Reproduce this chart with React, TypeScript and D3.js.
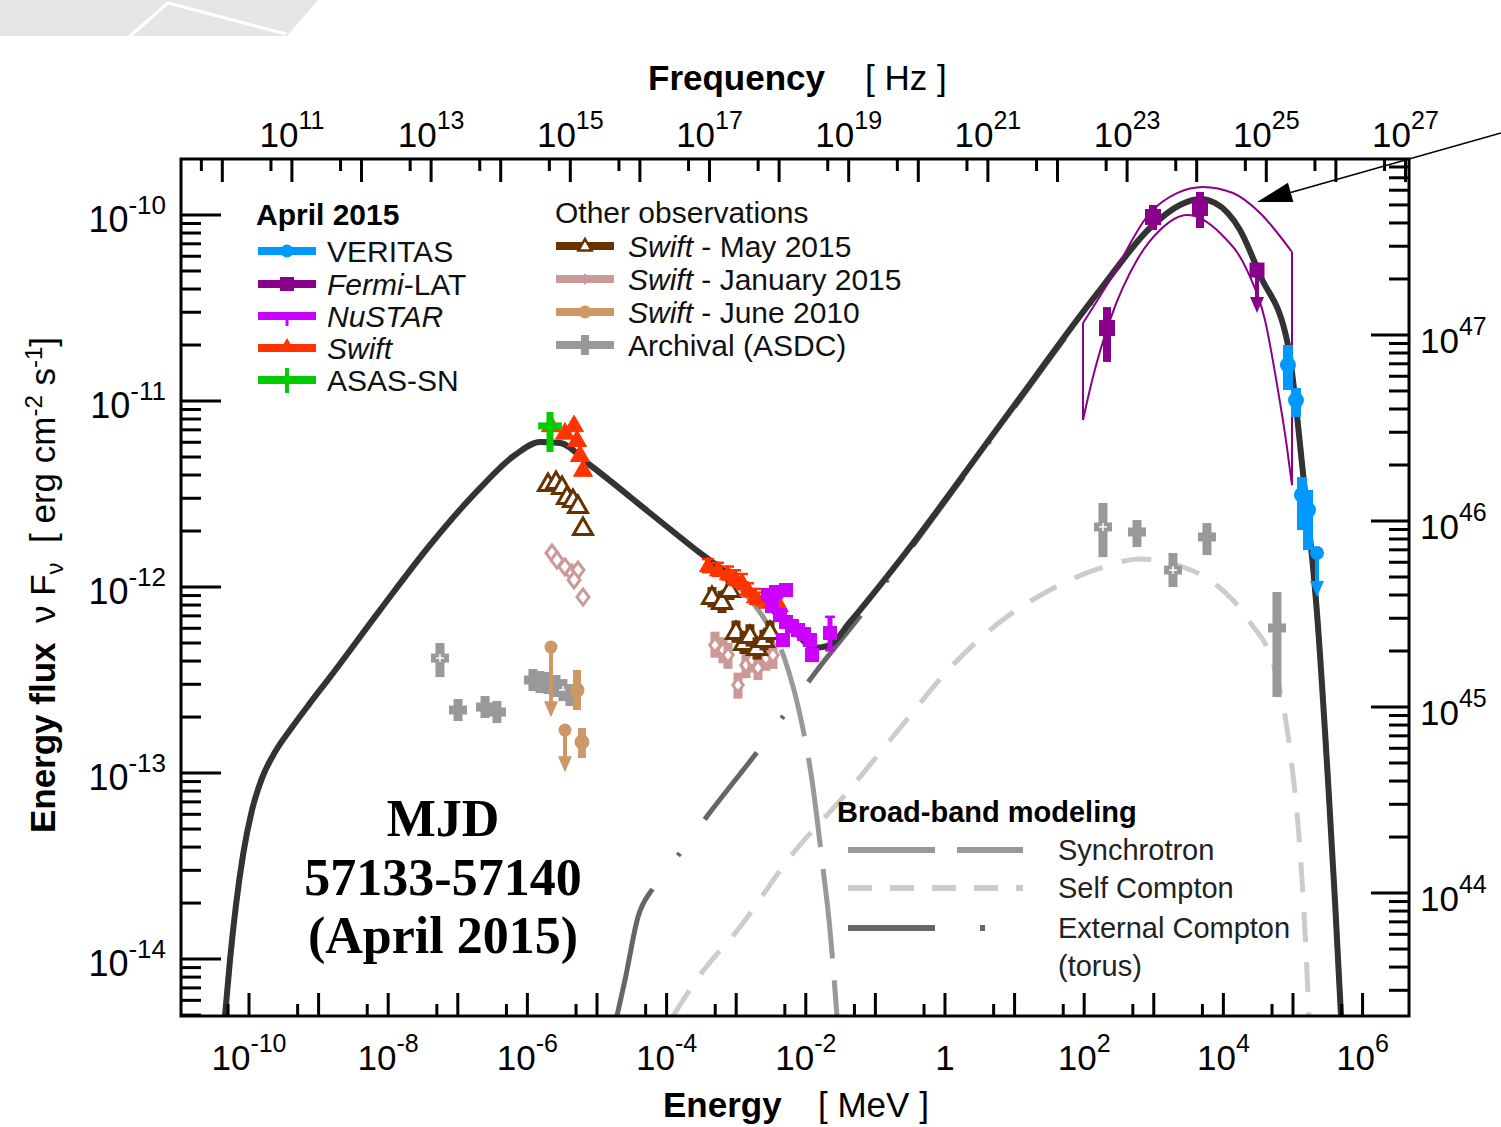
import React from "react";
import * as d3 from "d3";

const W = 1501;
const H = 1127;
const M = { left: 181, right: 1409, top: 159, bottom: 1016 };

const LOG_E_RANGE = [-10.977, 6.667]; // log10 Energy [MeV]
const LOG_F_RANGE = [-14.306, -9.699]; // log10 nuFnu [erg cm^-2 s^-1]
const PLANCK_MEV_S = 4.1357e-21;
const LOG_LUM_OVER_FLUX = 57.645;

const SANS = '"Liberation Sans", Arial, Helvetica, sans-serif';
const SERIF = '"Liberation Serif", "Times New Roman", Times, serif';

// ---------- model curves: [log10 E (MeV), log10 nuFnu] ----------
const totalModel = [
  [-10.345, -14.306], [-10.273, -14.005], [-10.187, -13.71], [-10.086, -13.441], [-9.957, -13.199],
  [-9.813, -13.027], [-9.626, -12.887], [-9.411, -12.769], [-9.124, -12.624], [-8.836, -12.484],
  [-8.118, -12.124], [-7.399, -11.774],
  [-6.681, -11.468], [-6.178, -11.29], [-5.819, -11.22], [-5.532, -11.226], [-5.101, -11.344],
  [-4.239, -11.602], [-3.52, -11.817], [-2.802, -12.016], [-2.227, -12.21], [-1.868, -12.328],
  [-1.652, -12.312], [-1.365, -12.188], [-0.647, -11.855], [0.79, -11.129], [2.227, -10.403],
  [2.945, -10.07], [3.376, -9.946], [3.664, -9.914], [3.879, -9.935], [4.239, -10.081],
  [4.526, -10.323], [4.928, -10.699], [5.144, -11.387], [5.345, -12.14], [5.503, -13.038],
  [5.603, -13.683], [5.69, -14.306],
];
const synchrotron = [
  [-10.345, -14.306], [-10.273, -14.005], [-10.187, -13.71], [-10.086, -13.441], [-9.957, -13.199],
  [-9.813, -13.027], [-9.626, -12.887], [-9.411, -12.769], [-9.124, -12.624], [-8.836, -12.484],
  [-8.118, -12.124], [-7.399, -11.774],
  [-6.681, -11.468], [-6.178, -11.29], [-5.819, -11.22], [-5.532, -11.226], [-5.101, -11.344],
  [-4.239, -11.602], [-3.52, -11.817], [-2.945, -12.005], [-2.586, -12.177], [-2.299, -12.392],
  [-2.083, -12.688], [-1.911, -13.038], [-1.767, -13.468], [-1.652, -13.844], [-1.552, -14.306],
];
const externalCompton = [
  [-4.713, -14.306], [-4.598, -14.113], [-4.411, -13.774], [-4.195, -13.618], [-3.807, -13.43],
  [-3.405, -13.226], [-2.658, -12.866], [-2.27, -12.667], [-1.868, -12.462], [-1.121, -12.108],
  [-0.647, -11.871], [0.79, -11.14], [2.227, -10.41], [2.945, -10.07], [3.376, -9.946],
  [3.664, -9.914], [3.879, -9.935], [4.239, -10.081], [4.526, -10.323], [4.928, -10.699],
  [5.144, -11.387], [5.345, -12.14], [5.503, -13.038], [5.603, -13.683], [5.69, -14.306],
];
const selfCompton = [
  [-3.908, -14.306], [-3.52, -14.086], [-2.945, -13.828], [-2.227, -13.452], [-1.437, -13.118],
  [-0.647, -12.758], [0.072, -12.435], [0.79, -12.188], [1.509, -12.016], [2.227, -11.898],
  [2.802, -11.849], [3.376, -11.887], [3.951, -12.005], [4.382, -12.188], [4.741, -12.446],
  [4.957, -12.876], [5.101, -13.414], [5.172, -13.844], [5.23, -14.306],
];

// Fermi-LAT butterfly
const bowtieUpper = [
  [1.983, -10.581], [2.371, -10.349], [2.945, -9.989], [3.333, -9.882], [3.707, -9.849],
  [4.138, -9.882], [4.526, -9.989], [4.986, -10.199],
];
const bowtieLower = [
  [1.983, -11.102], [2.126, -10.871], [2.371, -10.565], [2.759, -10.242], [3.089, -10.081],
  [3.477, -10.0], [3.951, -10.097], [4.339, -10.296], [4.598, -10.565], [4.784, -10.941],
  [4.899, -11.21], [4.986, -11.452],
];

// ---------- observations: [logE, logF, logFlow, logFhigh] ----------
const veritas = [
  [4.928, -10.806, -10.941, -10.699],
  [5.043, -10.995, -11.086, -10.93],
  [5.129, -11.505, -11.694, -11.409],
  [5.216, -11.586, -11.801, -11.478],
];
const veritasUL = [[5.345, -11.817, -12.054]];
const fermi = [
  [2.328, -10.608, -10.79, -10.495],
  [2.989, -10.011, -10.081, -9.946],
  [3.664, -9.962, -10.07, -9.876],
];
const fermiUL = [[4.483, -10.296, -10.527]];
const nustar = [
  [-2.543, -12.043, -12.073, -12.013], [-2.428, -12.027, -12.057, -11.997], [-2.284, -12.016, -12.046, -11.986],
  [-2.486, -12.102, -12.132, -12.072], [-2.371, -12.151, -12.181, -12.121], [-2.284, -12.188, -12.218, -12.158],
  [-2.198, -12.21, -12.24, -12.18], [-2.112, -12.231, -12.261, -12.201], [-2.026, -12.253, -12.283, -12.223],
  [-1.94, -12.285, -12.315, -12.255], [-2.328, -12.285, -12.315, -12.255], [-1.911, -12.366, -12.396, -12.336],
  [-1.652, -12.247, -12.34, -12.16],
];
const swiftUV = [
  [-5.66, -11.13, -11.16, -11.1], [-5.46, -11.17, -11.2, -11.14], [-5.33, -11.13, -11.16, -11.1],
  [-5.287, -11.21, -11.24, -11.18], [-5.244, -11.29, -11.32, -11.26], [-5.201, -11.37, -11.4, -11.34],
];
const swiftXray = [
  [-3.405, -11.887, -11.92, -11.85], [-3.261, -11.909, -11.94, -11.87], [-3.118, -11.93, -11.96, -11.89],
  [-3.017, -11.952, -11.99, -11.91], [-2.917, -11.973, -12.01, -11.93], [-2.83, -12.016, -12.05, -11.98],
  [-2.73, -12.054, -12.09, -12.01], [-2.601, -12.07, -12.11, -12.03], [-2.371, -12.102, -12.14, -12.04],
];
const asassn = [[-5.675, -11.134, -11.274, -11.059]];
const asassnXErr = [[-5.675, -5.845, -5.505]];
const swiftMayUV = [
  [-5.704, -11.446], [-5.589, -11.435], [-5.503, -11.462], [-5.431, -11.516],
  [-5.345, -11.532], [-5.273, -11.565], [-5.201, -11.683],
];
const swiftMayXray = [
  [-3.348, -12.054, -12.11, -12.0], [-3.204, -12.081, -12.14, -12.02], [-3.089, -12.016, -12.07, -11.96],
  [-3.003, -12.242, -12.3, -12.18], [-2.888, -12.301, -12.36, -12.24], [-2.802, -12.263, -12.32, -12.2],
  [-2.701, -12.328, -12.39, -12.27], [-2.601, -12.285, -12.34, -12.23], [-2.514, -12.242, -12.3, -12.18],
];
const swiftJanUV = [
  [-5.647, -11.817], [-5.575, -11.855], [-5.46, -11.892], [-5.359, -11.925],
  [-5.273, -11.909], [-5.33, -11.962], [-5.201, -12.054],
];
const swiftJanXray = [
  [-3.305, -12.312, -12.38, -12.24], [-3.19, -12.339, -12.41, -12.27], [-3.118, -12.366, -12.44, -12.3],
  [-2.974, -12.527, -12.6, -12.46], [-2.859, -12.419, -12.49, -12.35], [-2.773, -12.392, -12.46, -12.32],
  [-2.687, -12.435, -12.5, -12.37], [-2.572, -12.382, -12.45, -12.31], [-2.471, -12.366, -12.44, -12.3],
];
const swiftJune2010 = [
  [-5.287, -12.554, -12.661, -12.446],
  [-5.216, -12.833, -12.919, -12.758],
];
const swiftJune2010UL = [
  [-5.661, -12.323, -12.7],
  [-5.46, -12.769, -12.995],
];
// archival: [logE, logF, lo, hi, open(1)/filled(0)]
const archival = [
  [-7.256, -12.382, -12.484, -12.301, 1], [-6.997, -12.661, -12.69, -12.63, 0], [-6.609, -12.645, -12.675, -12.615, 0],
  [-6.437, -12.672, -12.7, -12.64, 0], [-5.92, -12.5, -12.53, -12.47, 0], [-5.819, -12.511, -12.54, -12.48, 0],
  [-5.704, -12.516, -12.55, -12.49, 0], [-5.589, -12.532, -12.56, -12.5, 0], [-5.489, -12.554, -12.58, -12.52, 1],
  [-5.388, -12.581, -12.61, -12.55, 0],
  [2.27, -11.677, -11.839, -11.548, 1], [2.759, -11.704, -11.785, -11.64, 0], [3.276, -11.909, -12.0, -11.817, 1],
  [3.764, -11.731, -11.828, -11.656, 0], [4.77, -12.22, -12.591, -12.027, 0],
];

// annotation arrow (data coords): tip, tail
const arrowTip = [4.483, -9.93];
const arrowTail = [7.989, -9.559];

const COLORS = {
  veritas: "#0099ff",
  fermi: "#8b008b",
  nustar: "#cc00ff",
  swift: "#ff3300",
  asassn: "#00cc00",
  may: "#663300",
  jan: "#cc9999",
  june: "#cc9966",
  archival: "#999999",
};

// External-Compton dash-dot style: first dash longer (curve enters from below the axis)
const EC_DASH = ["133,42,3,42"].concat(Array(14).fill("85,42,3,42")).join(",");

const xs = d3.scaleLog().domain([10 ** LOG_E_RANGE[0], 10 ** LOG_E_RANGE[1]]).range([M.left, M.right]);
const ys = d3.scaleLog().domain([10 ** LOG_F_RANGE[0], 10 ** LOG_F_RANGE[1]]).range([M.bottom, M.top]);
const nuScale = d3.scaleLog().domain(xs.domain().map((e) => e / PLANCK_MEV_S)).range(xs.range());
const lumScale = d3.scaleLog().domain(ys.domain().map((f) => f * 10 ** LOG_LUM_OVER_FLUX)).range(ys.range());
const px = (le: number) => xs(10 ** le);
const py = (lf: number) => ys(10 ** lf);

const curve = d3
  .line<number[]>()
  .x((d) => px(d[0]))
  .y((d) => py(d[1]))
  .curve(d3.curveMonotoneX);

const triPath = (x: number, y: number, s: number) =>
  `M${x},${y - s}L${x + s * 0.95},${y + s * 0.65}L${x - s * 0.95},${y + s * 0.65}Z`;
const diamondPath = (x: number, y: number, s: number) =>
  `M${x},${y - s}L${x + s * 0.75},${y}L${x},${y + s}L${x - s * 0.75},${y}Z`;
const headPath = (x: number, y: number, w: number, h: number) => `M${x - w},${y - h}L${x + w},${y - h}L${x},${y}Z`;

function Pow({ x, y, exp, anchor, big = 35, small = 25, rise = 18 }: any) {
  if (exp === "0") {
    return (
      <text x={x} y={y} textAnchor={anchor} fontSize={big} fontFamily={SANS}>
        1
      </text>
    );
  }
  return (
    <text x={x} y={y} textAnchor={anchor} fontSize={big} fontFamily={SANS}>
      10
      <tspan dy={-rise} fontSize={small}>
        {exp}
      </tspan>
    </text>
  );
}

function range(a: number, b: number) {
  const r: number[] = [];
  for (let i = a; i <= b; i++) r.push(i);
  return r;
}

function Axes() {
  const els: any[] = [];
  const sw = 3;
  // bottom: energy
  const eMin = Math.ceil(LOG_E_RANGE[0]);
  const eMax = Math.floor(LOG_E_RANGE[1]);
  range(eMin, eMax).forEach((n) => {
    const x = xs(10 ** n);
    els.push(<line key={`bM${n}`} x1={x} x2={x} y1={M.bottom} y2={M.bottom - 23} stroke="#000" strokeWidth={sw} />);
    if (n % 2 === 0) els.push(<Pow key={`bL${n}`} x={x} y={1070} exp={String(n)} anchor="middle" />);
  });
  range(eMin - 1, eMax).forEach((n) => {
    const v = 5 * 10 ** n;
    const x = xs(v);
    if (v > xs.domain()[0] && v < xs.domain()[1])
      els.push(<line key={`bm${n}`} x1={x} x2={x} y1={M.bottom} y2={M.bottom - 12} stroke="#000" strokeWidth={sw} />);
  });
  // top: frequency
  const nd = nuScale.domain();
  const nMin = Math.ceil(Math.log10(nd[0]));
  const nMax = Math.floor(Math.log10(nd[1]));
  range(nMin, nMax).forEach((n) => {
    const x = nuScale(10 ** n);
    els.push(<line key={`tM${n}`} x1={x} x2={x} y1={M.top} y2={M.top + 23} stroke="#000" strokeWidth={sw} />);
    if (n % 2 === 1) els.push(<Pow key={`tL${n}`} x={x} y={147} exp={String(n)} anchor="middle" />);
  });
  range(nMin - 1, nMax).forEach((n) => {
    const v = 5 * 10 ** n;
    if (v > nd[0] && v < nd[1]) {
      const x = nuScale(v);
      els.push(<line key={`tm${n}`} x1={x} x2={x} y1={M.top} y2={M.top + 12} stroke="#000" strokeWidth={sw} />);
    }
  });
  // left: flux
  const fd = ys.domain();
  range(Math.floor(LOG_F_RANGE[0]), Math.ceil(LOG_F_RANGE[1])).forEach((n) => {
    for (let k = 1; k <= 9; k++) {
      const v = k * 10 ** n;
      if (v < fd[0] || v > fd[1]) continue;
      const y = ys(v);
      els.push(
        <line key={`l${n}_${k}`} x1={M.left} x2={M.left + (k === 1 ? 40 : 20)} y1={y} y2={y} stroke="#000" strokeWidth={sw} />
      );
      if (k === 1) els.push(<Pow key={`lL${n}`} x={166} y={y + 17} exp={String(n)} anchor="end" big={36} small={26} />);
    }
  });
  // right: luminosity
  const ld = lumScale.domain();
  range(Math.floor(Math.log10(ld[0])), Math.ceil(Math.log10(ld[1]))).forEach((n) => {
    for (let k = 1; k <= 9; k++) {
      const v = k * 10 ** n;
      if (v < ld[0] || v > ld[1]) continue;
      const y = lumScale(v);
      els.push(
        <line key={`r${n}_${k}`} x1={M.right} x2={M.right - (k === 1 ? 38 : 20)} y1={y} y2={y} stroke="#000" strokeWidth={sw} />
      );
      if (k === 1) els.push(<Pow key={`rL${n}`} x={1420} y={y + 18} exp={String(n)} anchor="start" />);
    }
  });
  return <g>{els}</g>;
}

function ErrPoints({ data, color, marker, size, barW, cap = 0, open = false, mkStroke = 2.5 }: any) {
  return (
    <g>
      {data.map((d: number[], i: number) => {
        const x = px(d[0]);
        const y = py(d[1]);
        const y1 = d.length > 2 ? py(d[2]) : y;
        const y2 = d.length > 3 ? py(d[3]) : y;
        const fill = open ? "#fff" : color;
        let mk: any = null;
        if (marker === "circle") mk = <circle cx={x} cy={y} r={size} fill={fill} stroke={color} strokeWidth={2} />;
        if (marker === "square")
          mk = <rect x={x - size} y={y - size} width={size * 2} height={size * 2} fill={fill} stroke={color} strokeWidth={1} />;
        if (marker === "tri") mk = <path d={triPath(x, y, size)} fill={fill} stroke={color} strokeWidth={open ? mkStroke : 1} />;
        if (marker === "diamond") mk = <path d={diamondPath(x, y, size)} fill={fill} stroke={color} strokeWidth={mkStroke} />;
        return (
          <g key={i}>
            {y1 !== y2 && <line x1={x} x2={x} y1={y1} y2={y2} stroke={color} strokeWidth={barW} />}
            {cap > 0 && y1 !== y2 && (
              <g>
                <line x1={x - cap} x2={x + cap} y1={y1} y2={y1} stroke={color} strokeWidth={2.5} />
                <line x1={x - cap} x2={x + cap} y1={y2} y2={y2} stroke={color} strokeWidth={2.5} />
              </g>
            )}
            {mk}
          </g>
        );
      })}
    </g>
  );
}

function UpperLimits({ data, color, marker, size, barW }: any) {
  return (
    <g>
      {data.map((d: number[], i: number) => {
        const x = px(d[0]);
        const y = py(d[1]);
        const ye = py(d[2]);
        return (
          <g key={i}>
            <line x1={x} x2={x} y1={y} y2={ye - 10} stroke={color} strokeWidth={barW} />
            <path d={headPath(x, ye, 7, 16)} fill={color} />
            {marker === "circle" && <circle cx={x} cy={y} r={size} fill={color} />}
            {marker === "square" && <rect x={x - size} y={y - size} width={size * 2} height={size * 2} fill={color} />}
          </g>
        );
      })}
    </g>
  );
}

function Archival() {
  const c = COLORS.archival;
  return (
    <g>
      {archival.map((d, i) => {
        const x = px(d[0]);
        const y = py(d[1]);
        const y1 = Math.max(py(d[2]), y + 11);
        const y2 = Math.min(py(d[3]), y - 11);
        return (
          <g key={i}>
            <rect x={x - 4.5} y={y2} width={9} height={y1 - y2} fill={c} />
            <rect x={x - 9} y={y - 4.5} width={18} height={9} fill={c} />
            {d[4] === 1 && (
              <g stroke="#fff" strokeWidth={1.5}>
                <line x1={x - 4} x2={x + 4} y1={y} y2={y} />
                <line x1={x} x2={x} y1={y - 4} y2={y + 4} />
              </g>
            )}
          </g>
        );
      })}
    </g>
  );
}

function DataLegend() {
  const rowsL = [
    { label: [["VERITAS", false]], color: COLORS.veritas, mk: "circle", y: 251 },
    { label: [["Fermi", true], ["-LAT", false]], color: COLORS.fermi, mk: "square", y: 284 },
    { label: [["NuSTAR", true]], color: COLORS.nustar, mk: "nu", y: 316 },
    { label: [["Swift", true]], color: COLORS.swift, mk: "tri", y: 348 },
    { label: [["ASAS-SN", false]], color: COLORS.asassn, mk: "plus", y: 380 },
  ];
  const rowsR = [
    { label: [["Swift", true], [" - May 2015", false]], color: COLORS.may, mk: "otri", y: 246 },
    { label: [["Swift", true], [" - January 2015", false]], color: COLORS.jan, mk: "diamond", y: 279 },
    { label: [["Swift", true], [" - June 2010", false]], color: COLORS.june, mk: "circle", y: 312 },
    { label: [["Archival (ASDC)", false]], color: COLORS.archival, mk: "cross", y: 345 },
  ];
  const row = (r: any, x0: number, x1: number, tx: number, key: string) => {
    const cx = (x0 + x1) / 2;
    const y = r.y;
    let mk: any = null;
    if (r.mk === "circle") mk = <circle cx={cx} cy={y} r={6.5} fill={r.color} />;
    if (r.mk === "square") mk = <rect x={cx - 7} y={y - 7} width={14} height={14} fill={r.color} />;
    if (r.mk === "nu")
      mk = (
        <g>
          <rect x={cx - 4} y={y - 4} width={8} height={8} fill={r.color} />
          <line x1={cx} x2={cx} y1={y} y2={y + 10} stroke={r.color} strokeWidth={3} />
        </g>
      );
    if (r.mk === "tri") mk = <path d={triPath(cx, y - 2, 8)} fill={r.color} />;
    if (r.mk === "plus") mk = <line x1={cx} x2={cx} y1={y - 12} y2={y + 13} stroke={r.color} strokeWidth={4} />;
    if (r.mk === "otri") mk = <path d={triPath(cx, y, 7)} fill="#fff" stroke={r.color} strokeWidth={2.5} />;
    if (r.mk === "diamond") mk = <path d={diamondPath(cx, y, 6)} fill={r.color} />;
    if (r.mk === "cross")
      mk = (
        <g>
          <rect x={cx - 4} y={y - 10} width={8} height={20} fill={r.color} />
        </g>
      );
    return (
      <g key={key}>
        <line x1={x0} x2={x1} y1={y} y2={y} stroke={r.color} strokeWidth={8} />
        {mk}
        <text x={tx} y={y + 11} fontSize={30} fontFamily={SANS} fill="#111">
          {r.label.map((s: any, j: number) => (
            <tspan key={j} fontStyle={s[1] ? "italic" : "normal"}>
              {s[0]}
            </tspan>
          ))}
        </text>
      </g>
    );
  };
  return (
    <g>
      <text x={256} y={225} fontSize={30} fontWeight="bold" fontFamily={SANS}>
        April 2015
      </text>
      {rowsL.map((r, i) => row(r, 258, 316, 327, `L${i}`))}
      <text x={555} y={223} fontSize={30} fontFamily={SANS} fill="#111">
        Other observations
      </text>
      {rowsR.map((r, i) => row(r, 556, 614, 628, `R${i}`))}
    </g>
  );
}

function ModelLegend() {
  const items = [
    { label: "Synchrotron", color: "#999999", dash: "87,22", y: 850 },
    { label: "Self Compton", color: "#cccccc", dash: "24,18", y: 888 },
    { label: "External Compton", color: "#666666", dash: "87,45,5,200", y: 928 },
  ];
  return (
    <g fontFamily={SANS}>
      <text x={837} y={822} fontSize={29} fontWeight="bold">
        Broad-band modeling
      </text>
      {items.map((it) => (
        <g key={it.label}>
          <line x1={848} x2={1023} y1={it.y} y2={it.y} stroke={it.color} strokeWidth={6} strokeDasharray={it.dash} />
          <text x={1058} y={it.y + 10} fontSize={29} fill="#222">
            {it.label}
          </text>
        </g>
      ))}
      <text x={1058} y={976} fontSize={29} fill="#222">
        (torus)
      </text>
    </g>
  );
}

export default function App() {
  const tip = [px(arrowTip[0]), py(arrowTip[1])];
  const tail = [px(arrowTail[0]), py(arrowTail[1])];
  const dx = tail[0] - tip[0];
  const dy = tail[1] - tip[1];
  const len = Math.hypot(dx, dy);
  const ux = dx / len;
  const uy = dy / len;
  const bx = tip[0] + ux * 35;
  const by = tip[1] + uy * 35;
  const head = `M${tip[0]},${tip[1]}L${bx - uy * 10},${by + ux * 10}L${bx + uy * 10},${by - ux * 10}Z`;

  const bu = bowtieUpper;
  const bl = bowtieLower;

  return (
    <div style={{ position: "absolute", left: 0, top: 0, width: W, height: H, background: "#fff" }}>
      <svg width={W} height={H} viewBox={`0 0 ${W} ${H}`} style={{ display: "block" }}>
        <rect x={0} y={0} width={W} height={H} fill="#fff" />
        {/* slide decoration */}
        <path d="M0,0L318,0L287,36L0,36Z" fill="#e6e5e4" />
        <polyline points="129,37 168,3 286,34" fill="none" stroke="#fff" strokeWidth={3} />

        <defs>
          <clipPath id="plotClip">
            <rect x={M.left} y={M.top} width={M.right - M.left} height={M.bottom - M.top} />
          </clipPath>
        </defs>

        {/* models */}
        <g clipPath="url(#plotClip)" fill="none">
          <path d={curve(selfCompton) || ""} stroke="#cccccc" strokeWidth={5} strokeDasharray="30,20" />
          <path d={curve(synchrotron) || ""} stroke="#999999" strokeWidth={5} strokeDasharray="90,22" />
          <path d={curve(externalCompton) || ""} stroke="#666666" strokeWidth={5} strokeDasharray={EC_DASH} />
          <path d={curve(totalModel) || ""} stroke="#333333" strokeWidth={6} />
          {/* Fermi butterfly */}
          <g stroke={COLORS.fermi} strokeWidth={2}>
            <path d={curve(bu) || ""} />
            <path d={curve(bl) || ""} />
            <line x1={px(bu[0][0])} x2={px(bl[0][0])} y1={py(bu[0][1])} y2={py(bl[0][1])} />
            <line
              x1={px(bu[bu.length - 1][0])}
              x2={px(bl[bl.length - 1][0])}
              y1={py(bu[bu.length - 1][1])}
              y2={py(bl[bl.length - 1][1])}
            />
          </g>
        </g>

        {/* observations */}
        <Archival />
        <UpperLimits data={swiftJune2010UL} color={COLORS.june} marker="circle" size={6.5} barW={4} />
        <ErrPoints data={swiftJune2010} color={COLORS.june} marker="circle" size={6.5} barW={8} />
        <ErrPoints data={swiftJanUV} color={COLORS.jan} marker="diamond" size={8} barW={6} open mkStroke={3} />
        <ErrPoints data={swiftJanXray} color={COLORS.jan} marker="diamond" size={7} barW={9} open mkStroke={3} />
        <ErrPoints data={swiftMayUV} color={COLORS.may} marker="tri" size={10} barW={3} open mkStroke={3} />
        <ErrPoints data={swiftMayXray} color={COLORS.may} marker="tri" size={10} barW={9} open mkStroke={3} />
        <ErrPoints data={swiftUV} color={COLORS.swift} marker="tri" size={10} barW={4} />
        <ErrPoints data={swiftXray} color={COLORS.swift} marker="tri" size={9} barW={3} cap={6} />
        <ErrPoints data={nustar} color={COLORS.nustar} marker="square" size={6.5} barW={5} cap={5} />
        <g>
          {asassnXErr.map((d, i) => (
            <rect
              key={i}
              x={px(d[1])}
              y={py(asassn[i][1]) - 3.5}
              width={px(d[2]) - px(d[1])}
              height={7}
              fill={COLORS.asassn}
            />
          ))}
          <ErrPoints data={asassn} color={COLORS.asassn} marker="none" size={0} barW={7} />
        </g>
        <ErrPoints data={fermi} color={COLORS.fermi} marker="square" size={7.5} barW={8} />
        <UpperLimits data={fermiUL} color={COLORS.fermi} marker="square" size={7.5} barW={4} />
        <ErrPoints data={veritas} color={COLORS.veritas} marker="circle" size={7} barW={10} />
        <UpperLimits data={veritasUL} color={COLORS.veritas} marker="circle" size={7} barW={4} />

        {/* frame */}
        <rect x={M.left} y={M.top} width={M.right - M.left} height={M.bottom - M.top} fill="none" stroke="#000" strokeWidth={3} />
        <Axes />

        {/* annotation arrow */}
        <line x1={bx} y1={by} x2={tail[0]} y2={tail[1]} stroke="#000" strokeWidth={1.5} />
        <path d={head} fill="#000" />

        {/* axis titles */}
        <text x={648} y={90} fontSize={35} fontWeight="bold" fontFamily={SANS}>
          Frequency
        </text>
        <text x={865} y={90} fontSize={35} fontFamily={SANS}>
          [ Hz ]
        </text>
        <text x={663} y={1117} fontSize={35} fontWeight="bold" fontFamily={SANS}>
          Energy
        </text>
        <text x={818} y={1117} fontSize={35} fontFamily={SANS}>
          [ MeV ]
        </text>
        <text
          transform="translate(55,585) rotate(-90)"
          textAnchor="middle"
          fontSize={35}
          fontFamily={SANS}
          style={{ whiteSpace: "pre" }}
        >
          <tspan fontWeight="bold">Energy flux</tspan>
          <tspan>{"  \u03bd F"}</tspan>
          <tspan dy={8} fontSize={24}>
            {"\u03bd"}
          </tspan>
          <tspan dy={-8}>{"  [ erg cm"}</tspan>
          <tspan dy={-13} fontSize={24}>
            -2
          </tspan>
          <tspan dy={13}>{" s"}</tspan>
          <tspan dy={-13} fontSize={24}>
            -1
          </tspan>
          <tspan dy={13}>{"]"}</tspan>
        </text>

        <DataLegend />
        <ModelLegend />

        {/* MJD annotation */}
        <g fontFamily={SERIF} fontWeight="bold" fontSize={52} textAnchor="middle">
          <text x={443} y={836}>
            MJD
          </text>
          <text x={443} y={895}>
            57133-57140
          </text>
          <text x={443} y={953}>
            (April 2015)
          </text>
        </g>
      </svg>
    </div>
  );
}
